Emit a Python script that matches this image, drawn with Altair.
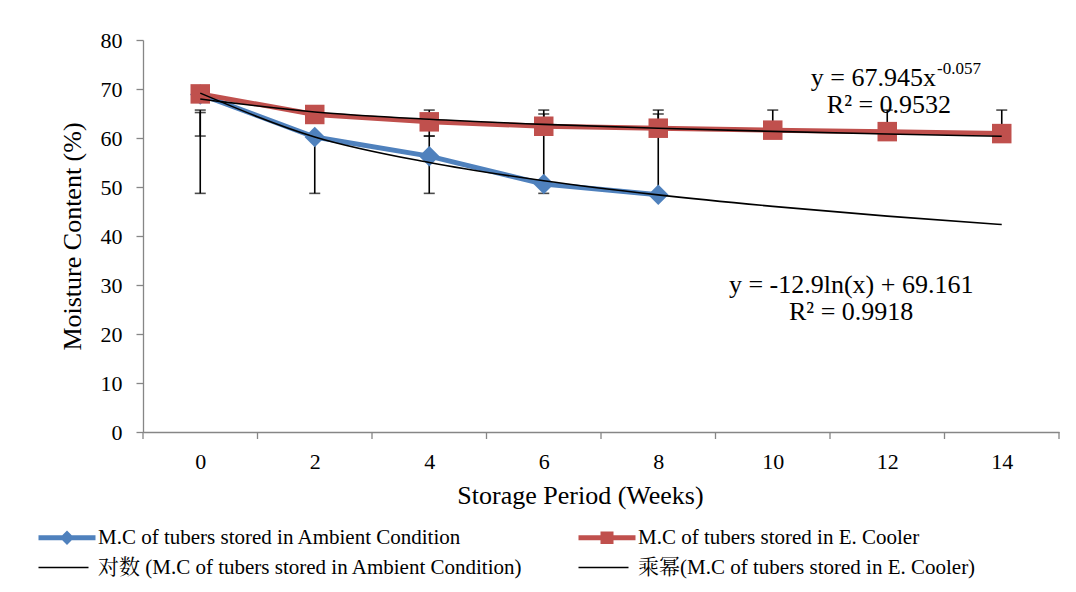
import altair as alt
import pandas as pd

# ---------------- data ----------------
weeks = [0, 2, 4, 6, 8, 10, 12, 14]
ambient_weeks = [0, 2, 4, 6, 8]
ambient_mc = [68.9, 60.2, 56.3, 50.6, 48.4]
cooler_mc = [69.0, 64.8, 63.3, 62.4, 62.0, 61.6, 61.3, 60.9]

# error bars (absolute limits as drawn)
ambient_err_low = [48.7, 48.7, 48.7, 48.7, 48.7]
ambient_err_high = [65.2, 60.4, 60.4, 64.9, 64.9]
cooler_err_low = [60.4, 64.8, 60.4, 62.4, 62.0, 61.6, 61.3, 60.9]
cooler_err_high = [65.7, 65.7, 65.7, 65.7, 65.7, 65.7, 65.7, 65.7]

# trend lines (values read at each category)
log_trend = [69.16, 60.22, 54.99, 51.28, 48.40, 46.05, 44.06, 42.34]
power_trend = [67.95, 65.31, 63.82, 62.78, 61.99, 61.35, 60.81, 60.35]

axis_tick_weeks = [-1, 1, 3, 5, 7, 9, 11, 13, 15]

S_AMB = "M.C of tubers stored in Ambient Condition"
S_COOL = "M.C of tubers stored in E. Cooler"
S_LOG = "对数 (M.C of tubers stored in Ambient Condition)"
S_POW = "乘幂(M.C of tubers stored in E. Cooler)"
series_order = [S_AMB, S_COOL, S_LOG, S_POW]
series_colors = ["#4F81BD", "#C0504D", "#000000", "#000000"]

# legend symbols: line (thin filled rectangle) + marker
legend_paths = [
    "M-1,-0.24H4.7V0.24H-1Z M1.85,-0.72L2.57,0L1.85,0.72L1.13,0Z",
    "M-1,-0.24H4.7V0.24H-1Z M1.2,-0.62H2.5V0.62H1.2Z",
    "M-1,-0.08H4V0.08H-1Z",
    "M-1,-0.08H4V0.08H-1Z",
]

# ---------------- tables ----------------
obs = pd.DataFrame(
    [{"week": w, "mc": v, "series": S_AMB} for w, v in zip(ambient_weeks, ambient_mc)]
    + [{"week": w, "mc": v, "series": S_COOL} for w, v in zip(weeks, cooler_mc)]
)
trend = pd.DataFrame(
    [{"week": w, "mc": v, "series": S_LOG} for w, v in zip(weeks, log_trend)]
    + [{"week": w, "mc": v, "series": S_POW} for w, v in zip(weeks, power_trend)]
)
allseries = pd.concat([obs, trend], ignore_index=True)
err = pd.DataFrame(
    [{"week": w, "lo": lo, "hi": hi} for w, lo, hi in zip(ambient_weeks, ambient_err_low, ambient_err_high)]
    + [{"week": w, "lo": lo, "hi": hi} for w, lo, hi in zip(weeks, cooler_err_low, cooler_err_high)]
)
caps = pd.DataFrame(
    [{"week": r.week, "mc": r.lo} for r in err.itertuples()]
    + [{"week": r.week, "mc": r.hi} for r in err.itertuples()]
)
ticks_df = pd.DataFrame({"week": axis_tick_weeks})

FONT = "Liberation Serif, Times New Roman, Noto Serif CJK SC, Noto Sans CJK SC"
W, H = 916, 392

xs = alt.Scale(domain=[-1, 15], nice=False, zero=False)
ys = alt.Scale(domain=[0, 80], nice=False)
xaxis = alt.Axis(values=weeks, ticks=False, title="Storage Period (Weeks)", labelPadding=19,
                 titlePadding=10, titleX=437, titleAlign="center", grid=False)
yaxis = alt.Axis(values=list(range(0, 90, 10)), title="Moisture Content (%)", tickSize=7,
                 labelPadding=14, titlePadding=15, grid=False)


def X():
    return alt.X("week:Q", scale=xs, axis=xaxis)


def Y(field="mc"):
    return alt.Y(f"{field}:Q", scale=ys, axis=yaxis)


color_scale = alt.Scale(domain=series_order, range=series_colors)
legend = alt.Legend(
    title=None, orient="none", legendX=-105, legendY=487, columns=2, direction="horizontal",
    labelFont=FONT, labelFontSize=21, labelColor="#000000", labelLimit=700,
    symbolSize=400, labelOffset=39, columnPadding=55, rowPadding=8,
    symbolOpacity=1, symbolStrokeWidth=0,
)

# invisible points that carry the legend
legend_layer = alt.Chart(allseries).mark_point(filled=True, size=0, strokeWidth=0).encode(
    x=X(), y=Y(),
    color=alt.Color("series:N", scale=color_scale, legend=legend),
    shape=alt.Shape("series:N", scale=alt.Scale(domain=series_order, range=legend_paths), legend=legend),
)

err_rules = alt.Chart(err).mark_rule(color="#000000", strokeWidth=1.6).encode(
    x=X(), y=Y("lo"), y2="hi:Q")
err_caps = alt.Chart(caps).mark_tick(color="#000000", orient="horizontal", size=11, thickness=1.6).encode(
    x=X(), y=Y())

lines = alt.Chart(obs).mark_line(strokeWidth=5).encode(
    x=X(), y=Y(), color=alt.Color("series:N", scale=color_scale, legend=None), detail="series:N")

pts_amb = alt.Chart(obs[obs.series == S_AMB]).mark_point(
    shape="diamond", filled=True, size=420, opacity=1, color="#4F81BD").encode(x=X(), y=Y())
pts_cool = alt.Chart(obs[obs.series == S_COOL]).mark_point(
    shape="square", filled=True, size=380, opacity=1, color="#C0504D").encode(x=X(), y=Y())

trend_lines = alt.Chart(trend).mark_line(strokeWidth=1.6, interpolate="monotone").encode(
    x=X(), y=Y(), color=alt.Color("series:N", scale=color_scale, legend=None), detail="series:N")

axis_ticks = alt.Chart(ticks_df).mark_rule(color="#868686", strokeWidth=1.3).encode(
    x=X(), y=alt.value(H), y2=alt.value(H + 7))

# annotations
ann_main = pd.DataFrame([{"week": 12.85, "mc": 72.3, "text": "y = 67.945x"}])
ann_sup = pd.DataFrame([{"week": 12.87, "mc": 74.0, "text": "-0.057"}])
ann_center = pd.DataFrame([
    {"week": 12.03, "mc": 66.8, "text": "R² = 0.9532"},
    {"week": 11.37, "mc": 30.1, "text": "y = -12.9ln(x) + 69.161"},
    {"week": 11.37, "mc": 24.4, "text": "R² = 0.9918"},
])
t1 = alt.Chart(ann_main).mark_text(font=FONT, fontSize=26, align="right", baseline="middle",
                                   color="#000000").encode(x=X(), y=Y(), text="text:N")
t2 = alt.Chart(ann_sup).mark_text(font=FONT, fontSize=17, align="left", baseline="middle",
                                  color="#000000").encode(x=X(), y=Y(), text="text:N")
t3 = alt.Chart(ann_center).mark_text(font=FONT, fontSize=26, align="center", baseline="middle",
                                     color="#000000").encode(x=X(), y=Y(), text="text:N")

chart = alt.layer(
    legend_layer, err_rules, err_caps, lines, pts_amb, pts_cool, trend_lines, axis_ticks, t1, t2, t3
).properties(
    width=W, height=H,
    padding={"left": 135, "top": 32, "right": 8, "bottom": 150},
    autosize=alt.AutoSizeParams(type="none"),
    background="white",
).configure_view(stroke=None).configure_axis(
    domainColor="#868686", domainWidth=1.3, tickColor="#868686", tickWidth=1.3,
    labelFont=FONT, labelFontSize=22, labelColor="#000000",
    titleFont=FONT, titleFontSize=26, titleFontWeight="normal", titleColor="#000000",
)

chart.save("out.html", embed_options={"renderer": "svg", "actions": False})
